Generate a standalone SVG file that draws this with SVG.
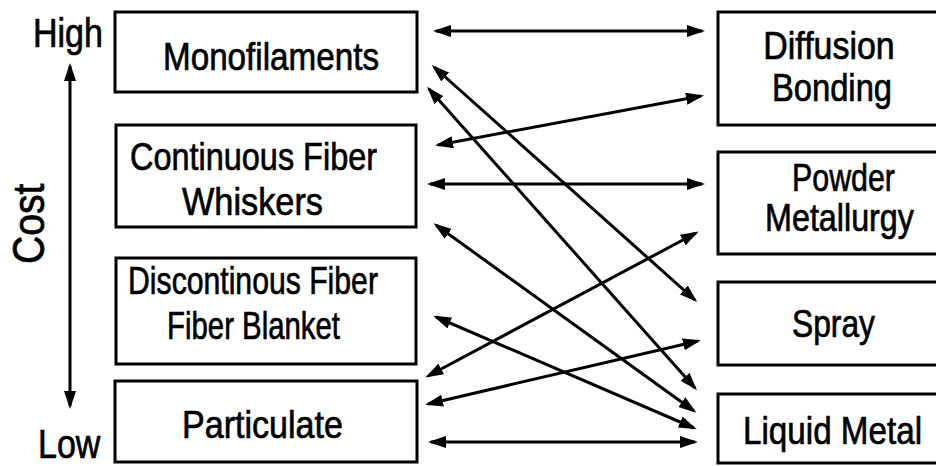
<svg xmlns="http://www.w3.org/2000/svg" width="936" height="466" viewBox="0 0 936 466">
  <defs>
    <marker id="head" viewBox="0 0 18 12" markerWidth="18" markerHeight="12" refX="15" refY="6" orient="auto-start-reverse" markerUnits="userSpaceOnUse">
      <path d="M0,0 L18,6 L0,12 Z" fill="#000"/>
    </marker>
    <style>
      .box { fill: #fff; stroke: #000; stroke-width: 3; }
      .lbl { font-family: "Liberation Sans", Arial, sans-serif; font-size: 39px; fill: #000; stroke: #000; stroke-width: 0.7; text-anchor: middle; }
      .axis { font-family: "Liberation Sans", Arial, sans-serif; font-size: 40px; fill: #000; stroke: #000; stroke-width: 0.7; }
      .link { stroke: #000; stroke-width: 3; fill: none; marker-start: url(#head); marker-end: url(#head); }
    </style>
  </defs>
  <rect width="936" height="466" fill="#fff"/>

  <!-- cost axis (labels are set in a narrowed face via horizontal scaling) -->
  <g id="cost-axis">
    <line x1="70" y1="66" x2="70" y2="406" class="link"/>
    <text class="axis" transform="translate(33,47) scale(0.85,1)">High</text>
    <text class="axis" transform="translate(38,458) scale(0.85,1)">Low</text>
    <text class="axis" style="font-size:45px" transform="translate(44,264) rotate(-90) scale(0.87,1)">Cost</text>
  </g>

  <!-- reinforcement forms -->
  <g id="monofilaments">
    <rect class="box" x="115" y="12" width="302" height="80"/>
    <text class="lbl" transform="translate(271,70) scale(0.852,1)">Monofilaments</text>
  </g>
  <g id="continuous-fiber">
    <rect class="box" x="116" y="125" width="300" height="102"/>
    <text class="lbl" transform="translate(253.5,170) scale(0.832,1)">Continuous Fiber</text>
    <text class="lbl" transform="translate(252.5,215) scale(0.88,1)">Whiskers</text>
  </g>
  <g id="discontinuous-fiber">
    <rect class="box" x="116" y="258" width="300" height="106"/>
    <text class="lbl" transform="translate(253,294) scale(0.774,1)">Discontinous Fiber</text>
    <text class="lbl" transform="translate(253.5,339) scale(0.753,1)">Fiber Blanket</text>
  </g>
  <g id="particulate">
    <rect class="box" x="115" y="381" width="302" height="81"/>
    <text class="lbl" transform="translate(262.5,438) scale(0.874,1)">Particulate</text>
  </g>

  <!-- processing routes -->
  <g id="diffusion-bonding">
    <rect class="box" x="718" y="12" width="222" height="113"/>
    <text class="lbl" transform="translate(829,59) scale(0.87,1)">Diffusion</text>
    <text class="lbl" transform="translate(832,101) scale(0.839,1)">Bonding</text>
  </g>
  <g id="powder-metallurgy">
    <rect class="box" x="718" y="152" width="222" height="102"/>
    <text class="lbl" transform="translate(843.5,191) scale(0.779,1)">Powder</text>
    <text class="lbl" transform="translate(839.5,231) scale(0.828,1)">Metallurgy</text>
  </g>
  <g id="spray">
    <rect class="box" x="718" y="282" width="222" height="83"/>
    <text class="lbl" transform="translate(833.5,337) scale(0.815,1)">Spray</text>
  </g>
  <g id="liquid-metal">
    <rect class="box" x="718" y="394" width="222" height="69"/>
    <text class="lbl" transform="translate(832.5,444) scale(0.852,1)">Liquid Metal</text>
  </g>

  <!-- connectors -->
  <g id="connectors">
    <line class="link" x1="436" y1="31" x2="702" y2="31"/>
    <line class="link" x1="434" y1="67" x2="695" y2="300"/>
    <line class="link" x1="429" y1="89" x2="695" y2="388"/>
    <line class="link" x1="438" y1="145" x2="701" y2="96"/>
    <line class="link" x1="430" y1="184" x2="702" y2="184"/>
    <line class="link" x1="436" y1="225" x2="694" y2="411"/>
    <line class="link" x1="436" y1="317" x2="694" y2="428"/>
    <line class="link" x1="428" y1="376" x2="696" y2="233"/>
    <line class="link" x1="428" y1="404" x2="698" y2="341"/>
    <line class="link" x1="431" y1="442" x2="695" y2="442"/>
  </g>
</svg>
